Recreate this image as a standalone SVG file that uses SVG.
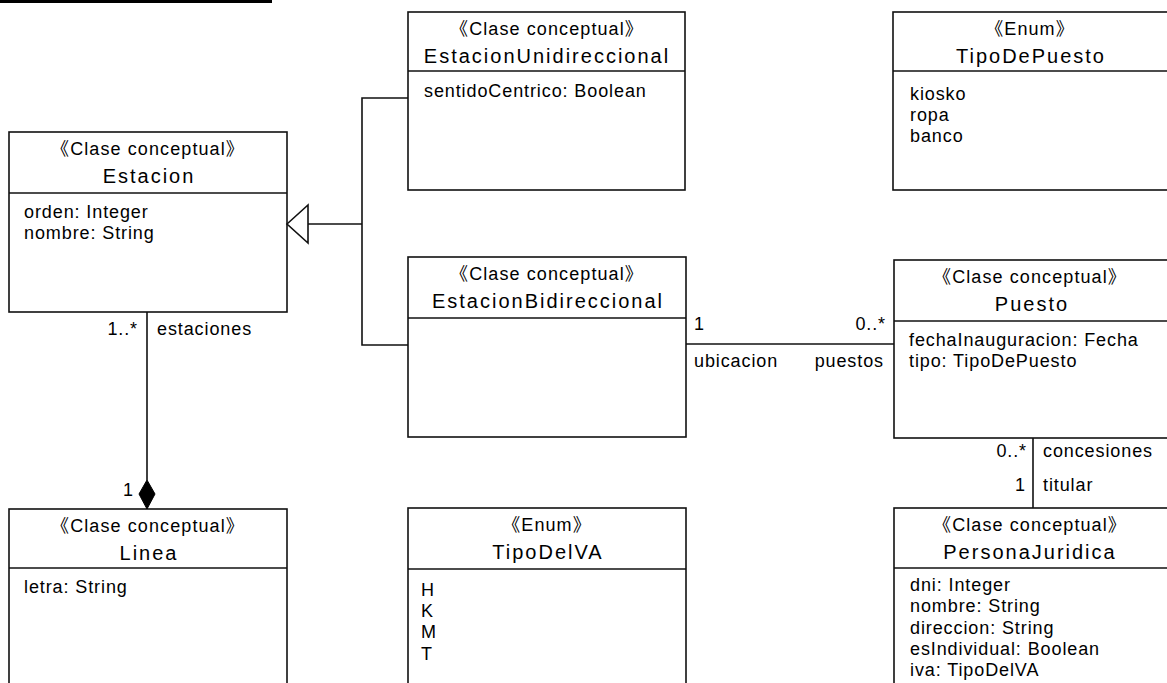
<svg xmlns="http://www.w3.org/2000/svg" width="1167" height="683" viewBox="0 0 1167 683">
<style>
.box{fill:#fff;stroke:#111;stroke-width:1.6}
.div{stroke:#111;stroke-width:1.6}
.ln{fill:none;stroke:#111;stroke-width:1.6}
.st{font-family:"Liberation Sans","Noto Sans CJK JP",sans-serif;font-size:18px;letter-spacing:1.1px;text-anchor:middle;fill:#000}
.nm{font-family:"Liberation Sans",sans-serif;font-size:20px;letter-spacing:2px;text-anchor:middle;fill:#000}
.at{font-family:"Liberation Sans",sans-serif;font-size:18px;letter-spacing:0.9px;fill:#000}
.end{text-anchor:end}
</style>
<rect x="0" y="0" width="272" height="3" fill="#000"/>
<g id="Estacion">
<rect class="box" x="9" y="132" width="278" height="180"/>
<line class="div" x1="9" y1="193" x2="287" y2="193"/>
<text class="st" x="148" y="155">《Clase conceptual》</text>
<text class="nm" x="149" y="183">Estacion</text>
<text class="at" x="24" y="218">orden: Integer</text>
<text class="at" x="24" y="239">nombre: String</text>
</g>
<g id="EstacionUnidireccional">
<rect class="box" x="408" y="12" width="277" height="178"/>
<line class="div" x1="408" y1="71" x2="685" y2="71"/>
<text class="st" x="547" y="35">《Clase conceptual》</text>
<text class="nm" x="547" y="63">EstacionUnidireccional</text>
<text class="at" x="424" y="97">sentidoCentrico: Boolean</text>
</g>
<g id="TipoDePuesto">
<rect class="box" x="893" y="12" width="285" height="178"/>
<line class="div" x1="893" y1="71" x2="1178" y2="71"/>
<text class="st" x="1030" y="35">《Enum》</text>
<text class="nm" x="1031" y="63">TipoDePuesto</text>
<text class="at" x="910" y="100">kiosko</text>
<text class="at" x="910" y="121">ropa</text>
<text class="at" x="910" y="142">banco</text>
</g>
<g id="EstacionBidireccional">
<rect class="box" x="408" y="257" width="278" height="180"/>
<line class="div" x1="408" y1="318" x2="686" y2="318"/>
<text class="st" x="547" y="280">《Clase conceptual》</text>
<text class="nm" x="548" y="308">EstacionBidireccional</text>
</g>
<g id="Puesto">
<rect class="box" x="894" y="260" width="285" height="178"/>
<line class="div" x1="894" y1="321" x2="1179" y2="321"/>
<text class="st" x="1030" y="283">《Clase conceptual》</text>
<text class="nm" x="1032" y="311">Puesto</text>
<text class="at" x="909" y="346">fechaInauguracion: Fecha</text>
<text class="at" x="909" y="367">tipo: TipoDePuesto</text>
</g>
<g id="Linea">
<rect class="box" x="9" y="509" width="278" height="200"/>
<line class="div" x1="9" y1="568" x2="287" y2="568"/>
<text class="st" x="148" y="532">《Clase conceptual》</text>
<text class="nm" x="149" y="560">Linea</text>
<text class="at" x="24" y="593">letra: String</text>
</g>
<g id="TipoDelVA">
<rect class="box" x="408" y="508" width="278" height="200"/>
<line class="div" x1="408" y1="569" x2="686" y2="569"/>
<text class="st" x="547" y="531">《Enum》</text>
<text class="nm" x="548" y="559">TipoDelVA</text>
<text class="at" x="421" y="596">H</text>
<text class="at" x="421" y="617">K</text>
<text class="at" x="421" y="638">M</text>
<text class="at" x="421" y="660">T</text>
</g>
<g id="PersonaJuridica">
<rect class="box" x="894" y="508" width="285" height="200"/>
<line class="div" x1="894" y1="568" x2="1179" y2="568"/>
<text class="st" x="1030" y="531">《Clase conceptual》</text>
<text class="nm" x="1030" y="559">PersonaJuridica</text>
<text class="at" x="910" y="591">dni: Integer</text>
<text class="at" x="910" y="612">nombre: String</text>
<text class="at" x="910" y="634">direccion: String</text>
<text class="at" x="910" y="655">esIndividual: Boolean</text>
<text class="at" x="910" y="676">iva: TipoDelVA</text>
</g>
<g id="connectors">
<polygon class="ln" points="287,224 308,205 308,243"/>
<polyline class="ln" points="308,224 362,224"/>
<polyline class="ln" points="408,98 362,98 362,345 408,345"/>
<line class="ln" x1="147" y1="312" x2="147" y2="480"/>
<polygon points="147,480 155,494 147,509 139,494" fill="#000" stroke="#000" stroke-width="1"/>
<text class="at end" x="138" y="335">1..*</text>
<text class="at" x="157" y="335">estaciones</text>
<text class="at end" x="134" y="496">1</text>
<line class="ln" x1="686" y1="344" x2="894" y2="344"/>
<text class="at" x="694" y="330">1</text>
<text class="at" x="694" y="367">ubicacion</text>
<text class="at end" x="886" y="330">0..*</text>
<text class="at end" x="884" y="367">puestos</text>
<line class="ln" x1="1033" y1="438" x2="1033" y2="508"/>
<text class="at end" x="1027" y="457">0..*</text>
<text class="at" x="1043" y="457">concesiones</text>
<text class="at end" x="1026" y="491">1</text>
<text class="at" x="1043" y="491">titular</text>
</g>
</svg>
